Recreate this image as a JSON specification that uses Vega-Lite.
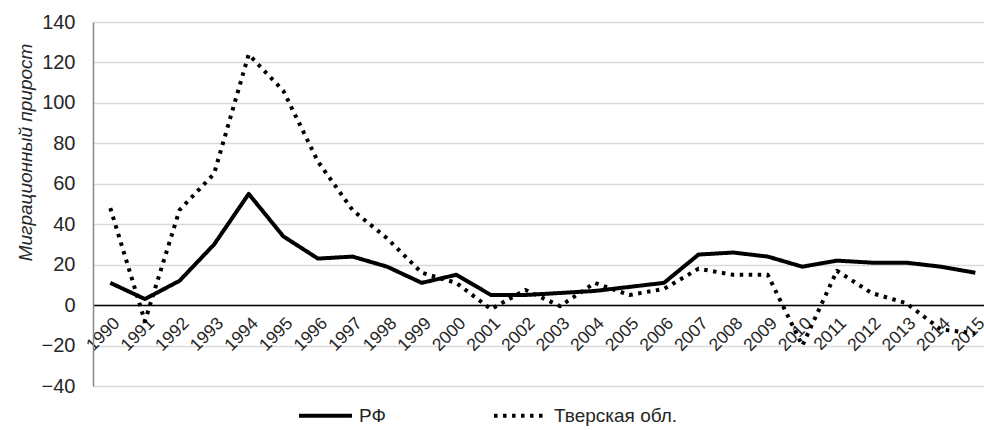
{
  "$schema": "https://vega.github.io/schema/vega-lite/v6.json",
  "width": 891,
  "height": 364,
  "autosize": {"type": "none"},
  "padding": {"left": 93, "top": 22, "right": 0, "bottom": 44},
  "background": "white",
  "config": {
    "font": "Liberation Sans",
    "view": {"stroke": null},
    "axis": {"labelColor": "#262626", "titleColor": "#262626"}
  },
  "data": {
    "values": [
      {"year": 1990, "series": "РФ", "value": 11},
      {"year": 1991, "series": "РФ", "value": 3},
      {"year": 1992, "series": "РФ", "value": 12},
      {"year": 1993, "series": "РФ", "value": 30},
      {"year": 1994, "series": "РФ", "value": 55},
      {"year": 1995, "series": "РФ", "value": 34},
      {"year": 1996, "series": "РФ", "value": 23},
      {"year": 1997, "series": "РФ", "value": 24},
      {"year": 1998, "series": "РФ", "value": 19},
      {"year": 1999, "series": "РФ", "value": 11},
      {"year": 2000, "series": "РФ", "value": 15},
      {"year": 2001, "series": "РФ", "value": 5},
      {"year": 2002, "series": "РФ", "value": 5},
      {"year": 2003, "series": "РФ", "value": 6},
      {"year": 2004, "series": "РФ", "value": 7},
      {"year": 2005, "series": "РФ", "value": 9},
      {"year": 2006, "series": "РФ", "value": 11},
      {"year": 2007, "series": "РФ", "value": 25},
      {"year": 2008, "series": "РФ", "value": 26},
      {"year": 2009, "series": "РФ", "value": 24},
      {"year": 2010, "series": "РФ", "value": 19},
      {"year": 2011, "series": "РФ", "value": 22},
      {"year": 2012, "series": "РФ", "value": 21},
      {"year": 2013, "series": "РФ", "value": 21},
      {"year": 2014, "series": "РФ", "value": 19},
      {"year": 2015, "series": "РФ", "value": 16},
      {"year": 1990, "series": "Тверская обл.", "value": 48},
      {"year": 1991, "series": "Тверская обл.", "value": -8},
      {"year": 1992, "series": "Тверская обл.", "value": 47},
      {"year": 1993, "series": "Тверская обл.", "value": 65},
      {"year": 1994, "series": "Тверская обл.", "value": 124},
      {"year": 1995, "series": "Тверская обл.", "value": 106},
      {"year": 1996, "series": "Тверская обл.", "value": 71},
      {"year": 1997, "series": "Тверская обл.", "value": 47},
      {"year": 1998, "series": "Тверская обл.", "value": 33},
      {"year": 1999, "series": "Тверская обл.", "value": 16},
      {"year": 2000, "series": "Тверская обл.", "value": 11},
      {"year": 2001, "series": "Тверская обл.", "value": -2},
      {"year": 2002, "series": "Тверская обл.", "value": 7.5},
      {"year": 2003, "series": "Тверская обл.", "value": -0.5},
      {"year": 2004, "series": "Тверская обл.", "value": 11},
      {"year": 2005, "series": "Тверская обл.", "value": 5},
      {"year": 2006, "series": "Тверская обл.", "value": 8},
      {"year": 2007, "series": "Тверская обл.", "value": 18},
      {"year": 2008, "series": "Тверская обл.", "value": 15},
      {"year": 2009, "series": "Тверская обл.", "value": 15},
      {"year": 2010, "series": "Тверская обл.", "value": -20},
      {"year": 2011, "series": "Тверская обл.", "value": 17},
      {"year": 2012, "series": "Тверская обл.", "value": 6},
      {"year": 2013, "series": "Тверская обл.", "value": 1},
      {"year": 2014, "series": "Тверская обл.", "value": -12},
      {"year": 2015, "series": "Тверская обл.", "value": -14}
    ]
  },
  "mark": {"type": "line", "color": "black", "strokeWidth": 4, "strokeJoin": "round"},
  "encoding": {
    "x": {
      "field": "year",
      "type": "quantitative",
      "scale": {"domain": [1989.5, 2015.25], "nice": false, "zero": false},
      "axis": {
        "title": null,
        "values": [1990, 1991, 1992, 1993, 1994, 1995, 1996, 1997, 1998, 1999, 2000, 2001, 2002, 2003, 2004, 2005, 2006, 2007, 2008, 2009, 2010, 2011, 2012, 2013, 2014, 2015],
        "format": "d",
        "labelAngle": -45,
        "labelFontSize": 17.5,
        "labelPadding": 9,
        "labelDx": -2,
        "labelFlush": false,
        "labelOverlap": false,
        "labelBound": false,
        "ticks": false,
        "grid": false,
        "domainColor": "black",
        "domainWidth": 1.3,
        "offset": -81
      }
    },
    "y": {
      "field": "value",
      "type": "quantitative",
      "scale": {"domain": [-40, 140], "nice": false, "zero": false},
      "axis": {
        "title": "Миграционный прирост",
        "titleFontStyle": "italic",
        "titleFontWeight": "normal",
        "titleFontSize": 19,
        "titleX": -58,
        "titleY": 130,
        "titleAlign": "center",
        "titleBaseline": "bottom",
        "titleAngle": -90,
        "values": [-40, -20, 0, 20, 40, 60, 80, 100, 120, 140],
        "labelFontSize": 20,
        "labelPadding": 18,
        "ticks": false,
        "grid": true,
        "gridColor": "#d9d9d9",
        "gridWidth": 1.3,
        "domainColor": "#888888",
        "domainWidth": 1.5
      }
    },
    "strokeDash": {
      "field": "series",
      "type": "nominal",
      "scale": {"domain": ["РФ", "Тверская обл."], "range": [[1, 0], [3.5, 5.5]]},
      "legend": {
        "title": null,
        "orient": "none",
        "direction": "horizontal",
        "legendX": 204,
        "legendY": 365,
        "symbolType": "stroke",
        "symbolSize": 2800,
        "symbolStrokeWidth": 4,
        "symbolStrokeColor": "black",
        "labelFontSize": 19,
        "labelColor": "#262626",
        "labelOffset": 5,
        "columnPadding": 100
      }
    }
  }
}
